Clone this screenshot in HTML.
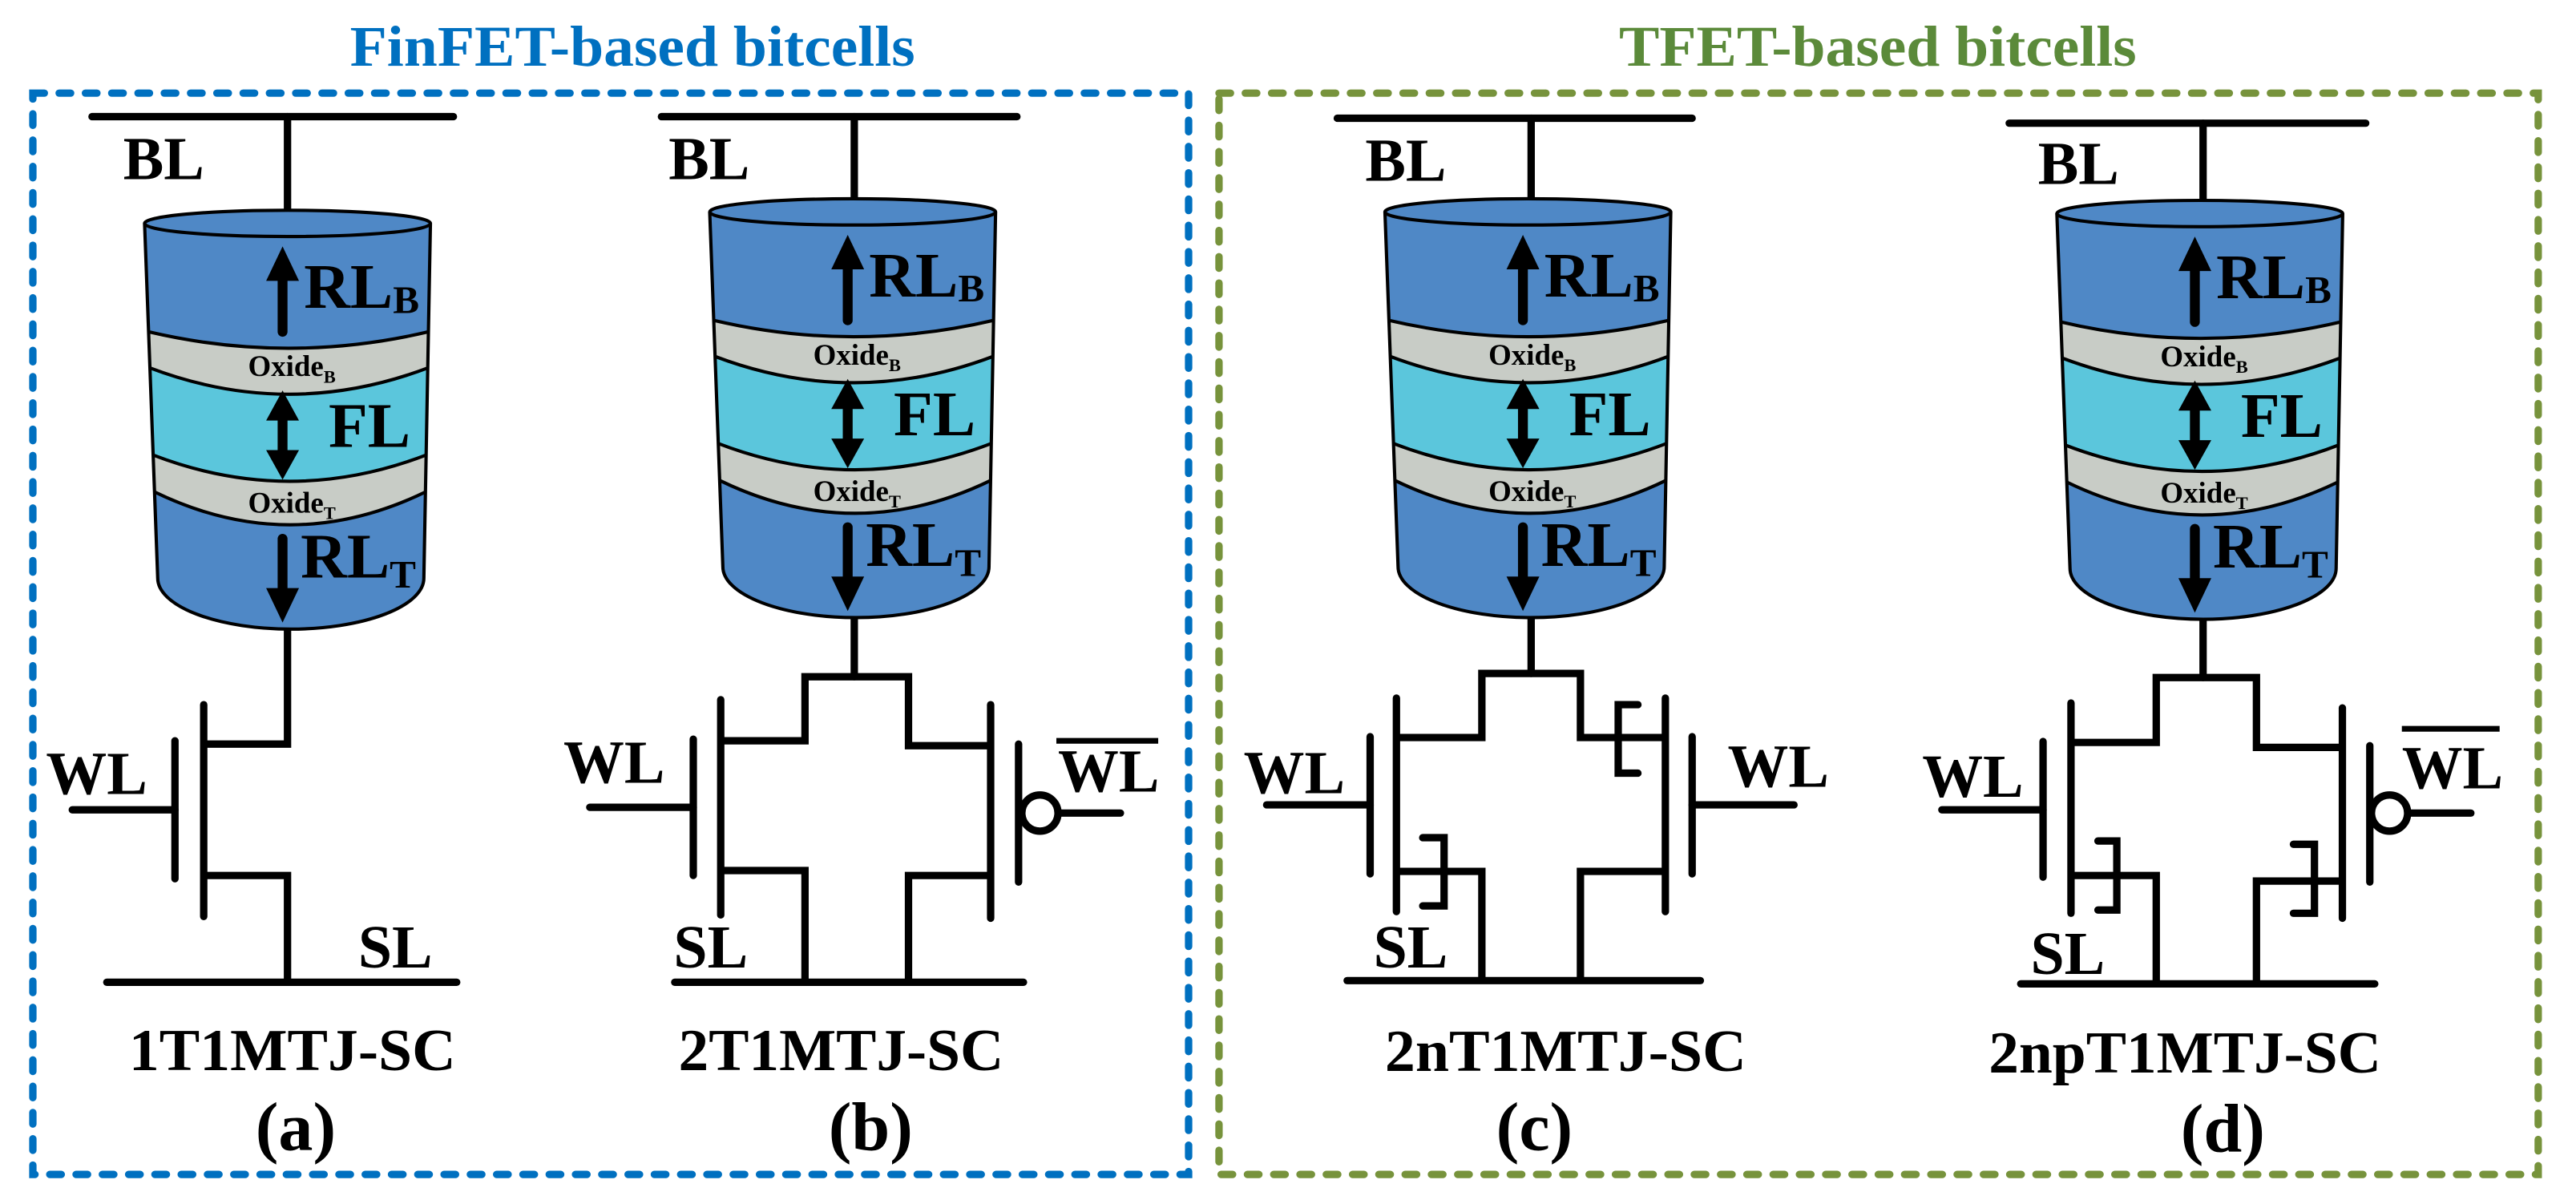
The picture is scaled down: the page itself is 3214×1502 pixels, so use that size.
<!DOCTYPE html>
<html><head><meta charset="utf-8"><style>
html,body{margin:0;padding:0;background:#fff;}
svg{display:block;}
svg text{font-family:"Liberation Serif","Times New Roman","DejaVu Serif",serif;font-weight:bold;}
</style></head><body>
<svg width="3214" height="1502" viewBox="0 0 1568 733" preserveAspectRatio="none" xmlns="http://www.w3.org/2000/svg" font-family="'Liberation Serif','DejaVu Serif',serif" font-weight="bold">
<defs>
<g id="cyl">
  <path d="M-87,0 L-79,216 A81,31 0 0 0 83,216 L87,0 Z" fill="#4f88c6"/>
  <path d="M-84.6,66 Q0.6,86 85.8,66 L84,163.5 Q1.5,203.5 -80.9,163.5 Z" fill="#c8ccc6"/>
  <path d="M-83.7,88 Q0.8,120 85.4,88 L84.4,141 Q1.3,173 -81.8,141 Z" fill="#5bc6dc"/>
  <g fill="none" stroke="#000" stroke-width="2">
    <path d="M-84.6,66 Q0.6,86 85.8,66"/>
    <path d="M-83.7,88 Q0.8,120 85.4,88"/>
    <path d="M-81.8,141 Q1.3,173 84.4,141"/>
    <path d="M-80.9,163.5 Q1.5,203.5 84,163.5"/>
    <path d="M-87,0 L-79,216 A81,31 0 0 0 83,216 L87,0"/>
  </g>
  <ellipse cx="0" cy="0" rx="87" ry="8" fill="#4f88c6" stroke="#000" stroke-width="2"/>
  <line x1="-3" y1="66" x2="-3" y2="32" stroke="#000" stroke-width="6" stroke-linecap="round"/>
  <polygon points="-3,14 -13,35 7,35" fill="#000"/>
  <text x="10" y="51.5" font-size="39" font-family="'Liberation Serif','DejaVu Serif',serif" font-weight="bold">RL<tspan font-size="24" dy="3">B</tspan></text>
  <text x="-24" y="93" font-size="18" font-family="'Liberation Serif','DejaVu Serif',serif" font-weight="bold">Oxide<tspan font-size="11" dy="4">B</tspan></text>
  <line x1="-3" y1="115" x2="-3" y2="143" stroke="#000" stroke-width="6"/>
  <polygon points="-3,101.7 -13,120 7,120" fill="#000"/>
  <polygon points="-3,156 -13,138 7,138" fill="#000"/>
  <text x="25" y="136" font-size="39" font-family="'Liberation Serif','DejaVu Serif',serif" font-weight="bold">FL</text>
  <text x="-24" y="176" font-size="18" font-family="'Liberation Serif','DejaVu Serif',serif" font-weight="bold">Oxide<tspan font-size="11" dy="4">T</tspan></text>
  <line x1="-3" y1="192" x2="-3" y2="225" stroke="#000" stroke-width="6" stroke-linecap="round"/>
  <polygon points="-3,243 -13,222 7,222" fill="#000"/>
  <text x="8" y="215.6" font-size="39" font-family="'Liberation Serif','DejaVu Serif',serif" font-weight="bold">RL<tspan font-size="24" dy="6">T</tspan></text>
</g>
</defs>

<text x="385" y="40" font-size="35" fill="#0070c0" text-anchor="middle" textLength="344" lengthAdjust="spacingAndGlyphs">FinFET-based bitcells</text>
<text x="1143" y="40" font-size="35" fill="#5b8a3a" text-anchor="middle" textLength="315" lengthAdjust="spacingAndGlyphs">TFET-based bitcells</text>
<rect x="20" y="56.7" width="703.5" height="658.3" fill="none" stroke="#0070c0" stroke-width="4.5" stroke-dasharray="7 9" stroke-linecap="round"/>
<rect x="742" y="56.7" width="803" height="658.3" fill="none" stroke="#77933c" stroke-width="4.5" stroke-dasharray="7 9" stroke-linecap="round"/>

<g stroke="#000" stroke-width="4.5" fill="none" stroke-linecap="round" stroke-linejoin="miter">
<line x1="56" y1="71" x2="276" y2="71"/>
<line x1="175" y1="71" x2="175" y2="136"/>
<polyline points="175,383 175,453 124,453" stroke-linecap="butt"/>
<line x1="124" y1="429" x2="124" y2="558"/>
<line x1="106.5" y1="451" x2="106.5" y2="535"/>
<line x1="44" y1="493" x2="106.5" y2="493"/>
<polyline points="124,533 175,533 175,598" stroke-linecap="butt"/>
<line x1="65" y1="598" x2="278" y2="598"/>
<line x1="402.6" y1="71" x2="619" y2="71"/>
<line x1="520" y1="71" x2="520" y2="129"/>
<line x1="520" y1="376" x2="520" y2="412"/>
<polyline points="438.7,451 490,451 490,412 553,412 553,454 603,454" stroke-linecap="butt"/>
<line x1="438.7" y1="426" x2="438.7" y2="557"/>
<line x1="422" y1="450" x2="422" y2="533"/>
<line x1="359" y1="491.5" x2="422" y2="491.5"/>
<polyline points="438.7,530 490,530 490,598" stroke-linecap="butt"/>
<line x1="603" y1="429" x2="603" y2="559"/>
<line x1="620" y1="453" x2="620" y2="537"/>
<line x1="644" y1="495" x2="682" y2="495"/>
<polyline points="603,533 553,533 553,598" stroke-linecap="butt"/>
<line x1="410.7" y1="598" x2="623" y2="598"/>
<line x1="643" y1="451" x2="705" y2="451" stroke-width="3.5" stroke-linecap="butt"/>
<line x1="814" y1="72" x2="1030" y2="72"/>
<line x1="932" y1="72" x2="932" y2="129"/>
<line x1="932" y1="376" x2="932" y2="410"/>
<polyline points="850,449 902,449 902,410 962,410 962,449 1013.7,449" stroke-linecap="butt"/>
<line x1="850" y1="425" x2="850" y2="555"/>
<line x1="834" y1="448.5" x2="834" y2="532"/>
<line x1="771" y1="490" x2="834" y2="490"/>
<polyline points="850,530.5 902,530.5 902,597" stroke-linecap="butt"/>
<polyline points="866,510 879,510 879,551.5 866,551.5"/>
<line x1="1013.7" y1="425" x2="1013.7" y2="555"/>
<line x1="1030" y1="448.5" x2="1030" y2="532"/>
<line x1="1030" y1="490" x2="1092" y2="490"/>
<polyline points="1013.7,530.5 962,530.5 962,597" stroke-linecap="butt"/>
<polyline points="997,429 985,429 985,470.7 997,470.7"/>
<line x1="820" y1="597" x2="1035" y2="597"/>
<line x1="1223" y1="75" x2="1440" y2="75"/>
<line x1="1341" y1="75" x2="1341" y2="130"/>
<line x1="1341" y1="377" x2="1341" y2="412.5"/>
<polyline points="1260.6,452 1312.5,452 1312.5,412.5 1373.5,412.5 1373.5,455 1425.8,455" stroke-linecap="butt"/>
<line x1="1260.6" y1="428" x2="1260.6" y2="556"/>
<line x1="1243.6" y1="451.4" x2="1243.6" y2="534"/>
<line x1="1182" y1="493" x2="1243.6" y2="493"/>
<polyline points="1260.6,533 1312.5,533 1312.5,599" stroke-linecap="butt"/>
<polyline points="1277,512 1288.5,512 1288.5,554 1277,554"/>
<line x1="1425.8" y1="431" x2="1425.8" y2="559"/>
<line x1="1442.5" y1="454" x2="1442.5" y2="537"/>
<line x1="1466" y1="495" x2="1504" y2="495"/>
<polyline points="1425.8,536.4 1373.5,536.4 1373.5,599" stroke-linecap="butt"/>
<polyline points="1396,514 1408.8,514 1408.8,556 1396,556"/>
<line x1="1230" y1="599" x2="1445.5" y2="599"/>
<line x1="1462" y1="443.7" x2="1521.5" y2="443.7" stroke-width="3.5" stroke-linecap="butt"/>
</g>
<g fill="#fff" stroke="#000" stroke-width="4.5">
<circle cx="633" cy="495" r="11"/>
<circle cx="1454.5" cy="495" r="11"/>
</g>

<use href="#cyl" transform="translate(175,136)"/>
<use href="#cyl" transform="translate(519,129)"/>
<use href="#cyl" transform="translate(930,129)"/>
<use href="#cyl" transform="translate(1339,130)"/>

<g font-size="37">
<text x="75" y="109">BL</text>
<text x="28" y="483.5">WL</text>
<text x="218" y="589">SL</text>
<text x="407" y="109">BL</text>
<text x="343" y="476.5">WL</text>
<text x="410" y="589">SL</text>
<text x="644" y="482">WL</text>
<text x="831" y="110">BL</text>
<text x="757" y="483">WL</text>
<text x="1051.6" y="479">WL</text>
<text x="836" y="589">SL</text>
<text x="1240.5" y="112">BL</text>
<text x="1170" y="485">WL</text>
<text x="1236" y="593">SL</text>
<text x="1462" y="480">WL</text>
</g>
<g font-size="36" text-anchor="middle">
<text x="178" y="651.5" textLength="199" lengthAdjust="spacingAndGlyphs">1T1MTJ-SC</text>
<text x="512" y="651.5" textLength="198" lengthAdjust="spacingAndGlyphs">2T1MTJ-SC</text>
<text x="953" y="652" textLength="220" lengthAdjust="spacingAndGlyphs">2nT1MTJ-SC</text>
<text x="1330" y="653" textLength="239" lengthAdjust="spacingAndGlyphs">2npT1MTJ-SC</text>
</g>
<g font-size="42" text-anchor="middle">
<text x="180" y="700">(a)</text>
<text x="530" y="700">(b)</text>
<text x="934" y="700">(c)</text>
<text x="1353" y="701">(d)</text>
</g>
</svg>
</body></html>
